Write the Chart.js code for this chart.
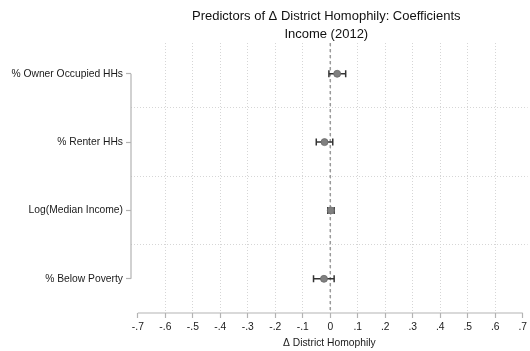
<!DOCTYPE html>
<html>
<head>
<meta charset="utf-8">
<script src="https://cdn.jsdelivr.net/npm/chart.js@4.4.0/dist/chart.umd.min.js"></script>
<style>
  html, body { margin: 0; padding: 0; background: #fff; }
  #wrap { width: 530px; height: 351px; }
</style>
</head>
<body>
<div id="wrap"><canvas id="myChart"></canvas></div>
<script>
// coefficient estimates with 95% CI
const predictors = ['% Owner Occupied HHs', '% Renter HHs', 'Log(Median Income)', '% Below Poverty']
const coefs = [0.025, -0.021, 0.002, -0.023]
const ciLow = [-0.005, -0.051, -0.009, -0.061]
const ciHigh = [0.056, 0.009, 0.014, 0.014]
const xTicks = [-0.7, -0.6, -0.5, -0.4, -0.3, -0.2, -0.1, 0, 0.1, 0.2, 0.3, 0.4, 0.5, 0.6, 0.7]
const titleLines = ['Predictors of \u0394 District Homophily: Coefficients', 'Income (2012)']
const xTitle = '\u0394 District Homophily'

const fontFamily = '"Liberation Sans", Arial, Helvetica, sans-serif'
const axisGray = '#b3b3b3'
const gridGray = '#d6d6d6'

// stata style tick labels: .1, -.1, 0
const fmtTick = v => {
    if (Math.abs(v) < 1e-9) return '0'
    return (v < 0 ? '-' : '') + '.' + Math.round(Math.abs(v) * 10)
}

const ciSets = predictors.map((p, i) => ({
    label: p + ' CI',
    data: [{x: ciLow[i], y: i}, {x: ciHigh[i], y: i}],
    showLine: true,
    borderColor: '#333333',
    borderWidth: 1.5,
    pointStyle: 'line',
    rotation: 90,
    pointRadius: 3.5,
    pointBorderColor: '#333333',
    pointBorderWidth: 1.5,
    order: 1
}))

const pointSet = {
    label: 'Coefficient',
    data: coefs.map((c, i) => ({x: c, y: i})),
    pointRadius: 3.5,
    pointBackgroundColor: '#808080',
    pointBorderColor: '#6a6a6a',
    pointBorderWidth: 0.8,
    order: 0
}

// title, zero line and the short axis lines
const decor = {
    id: 'decor',
    beforeDatasetsDraw(chart) {
        const {ctx, chartArea, scales} = chart
        const x0 = scales.x.getPixelForValue(0)
        ctx.save()
        ctx.strokeStyle = '#9a9a9a'
        ctx.lineWidth = 1.5
        ctx.setLineDash([3, 3])
        ctx.beginPath()
        ctx.moveTo(x0, chartArea.top)
        ctx.lineTo(x0, chartArea.bottom - 2)
        ctx.stroke()
        ctx.restore()
    },
    afterDraw(chart) {
        const {ctx, chartArea, scales} = chart
        ctx.save()
        ctx.strokeStyle = axisGray
        ctx.lineWidth = 1.2
        // y axis line between first and last category
        ctx.beginPath()
        ctx.moveTo(chartArea.left, scales.y.getPixelForValue(0))
        ctx.lineTo(chartArea.left, scales.y.getPixelForValue(predictors.length - 1))
        ctx.stroke()
        // x axis line between first and last tick
        ctx.beginPath()
        ctx.moveTo(scales.x.getPixelForValue(xTicks[0]), chartArea.bottom)
        ctx.lineTo(scales.x.getPixelForValue(xTicks[xTicks.length - 1]), chartArea.bottom)
        ctx.stroke()
        // title, centred over the tick range
        ctx.fillStyle = '#111'
        ctx.font = '13px ' + fontFamily
        ctx.textAlign = 'center'
        ctx.textBaseline = 'alphabetic'
        const cx = (scales.x.getPixelForValue(xTicks[0]) + scales.x.getPixelForValue(xTicks[xTicks.length - 1])) / 2 - 4
        ctx.fillText(titleLines[0], cx, 20)
        ctx.fillText(titleLines[1], cx, 38)
        ctx.restore()
    }
}

let myChart = document.getElementById('myChart').getContext('2d')
let coefChart = new Chart(myChart, {
    type: 'scatter',
    data: {
        datasets: [...ciSets, pointSet]
    },
    options: {
        responsive: true,
        maintainAspectRatio: false,
        animation: false,
        events: [],
        layout: {
            autoPadding: false,
            padding: {top: 43, right: 0, bottom: 2, left: 0}
        },
        plugins: {
            legend: {display: false},
            tooltip: {enabled: false}
        },
        scales: {
            x: {
                type: 'linear',
                min: -0.725,
                max: 0.718,
                afterBuildTicks: scale => {
                    scale.ticks = xTicks.map(v => ({value: v}))
                },
                afterFit: scale => {
                    scale.height = 36
                },
                ticks: {
                    autoSkip: false,
                    maxRotation: 0,
                    padding: 3,
                    color: '#1a1a1a',
                    font: {family: fontFamily, size: 10.3},
                    callback: v => fmtTick(v)
                },
                grid: {
                    color: ctx => Math.abs(ctx.tick.value) > 0.65 ? 'rgba(0,0,0,0)' : gridGray,
                    lineWidth: 1,
                    tickLength: 5,
                    tickColor: axisGray,
                    tickWidth: 1.2
                },
                border: {display: false, dash: [1, 2]},
                title: {
                    display: true,
                    text: xTitle,
                    color: '#1a1a1a',
                    font: {family: fontFamily, size: 10.3},
                    padding: {top: 0, bottom: 0}
                }
            },
            y: {
                type: 'linear',
                reverse: true,
                min: -0.45,
                max: 3.5,
                afterBuildTicks: scale => {
                    scale.ticks = [0, 0.5, 1, 1.5, 2, 2.5, 3].map(v => ({value: v}))
                },
                afterFit: scale => {
                    scale.width = 131
                },
                ticks: {
                    autoSkip: false,
                    padding: 3,
                    color: '#1a1a1a',
                    font: {family: fontFamily, size: 10.3},
                    callback: v => Number.isInteger(v) ? predictors[v] : ''
                },
                grid: {
                    color: ctx => Number.isInteger(ctx.tick.value) ? 'rgba(0,0,0,0)' : gridGray,
                    lineWidth: 1,
                    tickLength: 5,
                    tickColor: ctx => Number.isInteger(ctx.tick.value) ? axisGray : 'rgba(0,0,0,0)',
                    tickWidth: 1.2
                },
                border: {display: false, dash: [1, 2]}
            }
        }
    },
    plugins: [decor]
})
</script>
</body>
</html>
